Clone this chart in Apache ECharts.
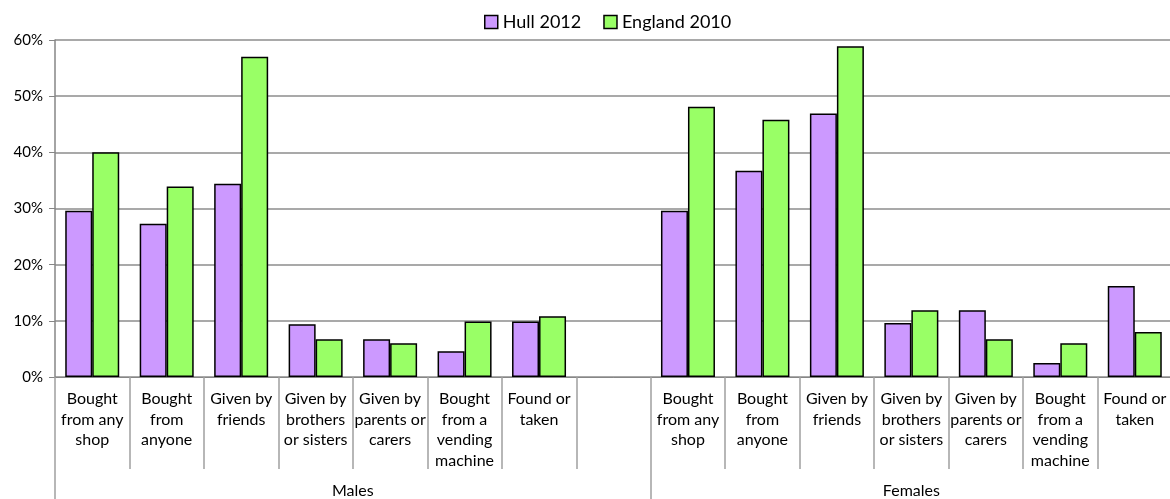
<!DOCTYPE html>
<html>
<head>
<meta charset="utf-8">
<script src="https://cdn.jsdelivr.net/npm/echarts@6/dist/echarts.min.js"></script>
<style>
  html, body { margin: 0; padding: 0; background: #fff; overflow: hidden; }
  /* the last category runs a few pixels past the visible right edge */
  #chart { width: 1175px; height: 499px; }
</style>
</head>
<body>
<div id="chart"></div>
<script>
// Source of cigarettes, by sex (empty slot separates the two groups)
const categories = [
  'Bought\nfrom any\nshop', 'Bought\nfrom\nanyone', 'Given by\nfriends',
  'Given by\nbrothers\nor sisters', 'Given by\nparents or\ncarers',
  'Bought\nfrom a\nvending\nmachine', 'Found or\ntaken', '',
  'Bought\nfrom any\nshop', 'Bought\nfrom\nanyone', 'Given by\nfriends',
  'Given by\nbrothers\nor sisters', 'Given by\nparents or\ncarers',
  'Bought\nfrom a\nvending\nmachine', 'Found or\ntaken'
];
const seriesNames = ['Hull 2012', 'England 2010'];
const hull2012 = [0.296, 0.273, 0.344, 0.094, 0.067, 0.046, 0.099, null,
                  0.296, 0.367, 0.469, 0.096, 0.119, 0.025, 0.162];
const england2010 = [0.40, 0.339, 0.570, 0.067, 0.060, 0.099, 0.108, null,
                     0.481, 0.458, 0.589, 0.119, 0.067, 0.060, 0.080];
// Group labels sit at the centre of each group's span on a 0..15 scale
const groups = [
  { name: 'Males', centre: 4 },
  { name: 'Females', centre: 11.5 }
];
const groupStarts = [0, 8];
const yTicks = { min: 0, max: 0.6, step: 0.1 };

const font = 'Lato, "Open Sans", sans-serif';
const colors = ['#CC99FF', '#99FF66'];

const chart = echarts.init(document.getElementById('chart'));
chart.setOption({
  animation: false,
  textStyle: { fontFamily: font },
  legend: {
    top: 8,
    left: 479,
    itemWidth: 13,
    itemHeight: 13,
    itemGap: 22,
    textStyle: { fontSize: 18, color: '#000', fontFamily: font },
    data: seriesNames.map((n, i) => ({
      name: n,
      icon: 'rect',
      itemStyle: { color: colors[i], borderColor: '#000', borderWidth: 1.5 }
    }))
  },
  grid: { left: 55, right: 0, top: 40, bottom: 121, containLabel: false },
  xAxis: [
    {
      type: 'category',
      data: categories,
      position: 'bottom',
      axisLine: { lineStyle: { color: '#868686', width: 1 } },
      axisTick: { show: true, length: 92, lineStyle: { color: '#a0a0a0', width: 1.5 } },
      axisLabel: {
        interval: 0, margin: 12, color: '#000', fontSize: 16,
        lineHeight: 20.5, fontFamily: font
      }
    },
    {
      type: 'category',
      data: categories.map((_, i) => 'g' + i),
      position: 'bottom',
      axisLine: { show: false },
      axisLabel: { show: false },
      axisTick: {
        show: true, length: 125,
        interval: (i) => groupStarts.includes(i),
        lineStyle: { color: '#a0a0a0', width: 1.5 }
      }
    },
    {
      type: 'value',
      position: 'bottom',
      min: 0, max: categories.length, interval: 0.5,
      axisLine: { show: false },
      axisTick: { show: false },
      splitLine: { show: false },
      axisLabel: {
        margin: 106, color: '#000', fontSize: 16, fontFamily: font,
        showMinLabel: true, showMaxLabel: true,
        formatter: (v) => {
          const g = groups.find(g => Math.abs(g.centre - v) < 1e-6);
          return g ? g.name : '';
        }
      }
    }
  ],
  yAxis: {
    type: 'value',
    min: yTicks.min, max: yTicks.max, interval: yTicks.step,
    axisLine: { show: true, lineStyle: { color: '#868686', width: 1.5 } },
    axisTick: { show: true, length: 6, lineStyle: { color: '#868686' } },
    splitLine: { lineStyle: { color: '#8c8c8c', width: 1.5 } },
    axisLabel: {
      color: '#000', fontSize: 15, margin: 12, fontFamily: font,
      formatter: (v) => Math.round(v * 100) + '%'
    }
  },
  series: [
    {
      name: seriesNames[0], type: 'bar', xAxisIndex: 0,
      data: hull2012, barWidth: 27, barGap: '0%',
      itemStyle: { color: colors[0], borderColor: '#000', borderWidth: 1.5 }
    },
    {
      name: seriesNames[1], type: 'bar', xAxisIndex: 0,
      data: england2010, barWidth: 27, barGap: '0%',
      itemStyle: { color: colors[1], borderColor: '#000', borderWidth: 1.5 }
    }
  ]
});
</script>
</body>
</html>
